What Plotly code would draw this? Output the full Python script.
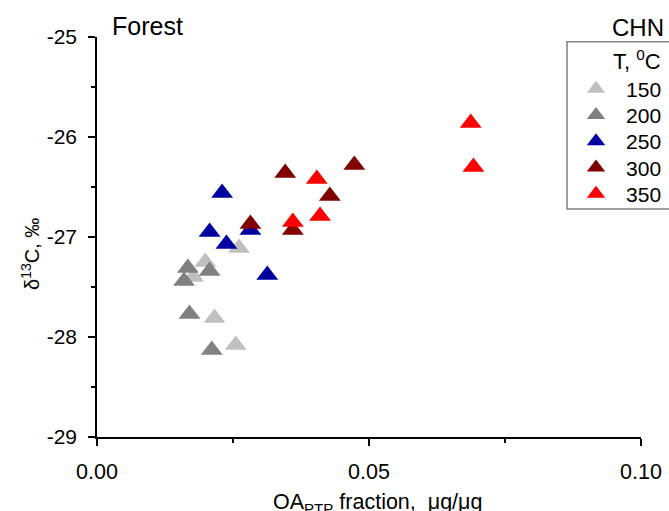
import plotly.graph_objects as go

# ---- data ----
temps = ["150", "200", "250", "300", "350"]
colors = ["#c0c0c0", "#808080", "#0000a0", "#800000", "#ff0000"]

x150 = [0.0261, 0.0199, 0.0177, 0.0216, 0.0255]
y150 = [-27.11, -27.25, -27.40, -27.81, -28.08]

x200 = [0.0167, 0.0207, 0.0160, 0.0170, 0.0211]
y200 = [-27.31, -27.34, -27.44, -27.77, -28.13]

x250 = [0.0230, 0.0207, 0.0238, 0.0282, 0.0313]
y250 = [-26.56, -26.95, -27.07, -26.93, -27.38]

x300 = [0.0282, 0.0346, 0.0473, 0.0428, 0.0360]
y300 = [-26.87, -26.36, -26.28, -26.59, -26.93]

x350 = [0.0687, 0.0692, 0.0404, 0.0410, 0.0360]
y350 = [-25.86, -26.30, -26.42, -26.79, -26.85]

xs = [x150, x200, x250, x300, x350]
ys = [y150, y200, y250, y300, y350]

x_tickvals = [0.0, 0.05, 0.10]
x_ticktext = ["0.00", "0.05", "0.10"]
y_tickvals = [-29, -28, -27, -26, -25]
y_ticktext = ["-29", "-28", "-27", "-26", "-25"]

FONT = "Liberation Sans, Arial, sans-serif"

# plot area in pixels: x 97..641, y 37..437
PX0, PX1, PY0, PY1 = 97, 641, 37, 437


def px(x):
    return (x - PX0) / (PX1 - PX0)


def py(y):
    return (PY1 - y) / (PY1 - PY0)


fig = go.Figure()
legend_names = ["legend", "legend2", "legend3", "legend4", "legend5"]
for t, c, xv, yv, lg in zip(temps, colors, xs, ys, legend_names):
    fig.add_trace(go.Scatter(
        x=xv, y=yv, mode="markers", name="\u00a0\u2009" + t, legend=lg,
        marker=dict(symbol="triangle-up", size=19, color=c, line=dict(width=0)),
    ))

legend_rows = [89, 115.3, 141.6, 167.9, 194.2]
layout_legends = {}
for lg, row in zip(legend_names, legend_rows):
    layout_legends[lg] = dict(
        x=px(576), xanchor="left", y=py(row), yanchor="middle",
        bgcolor="rgba(0,0,0,0)", borderwidth=0,
        font=dict(family=FONT, size=21, color="black"),
    )

fig.update_layout(
    width=669, height=511,
    margin=dict(l=PX0, r=669 - PX1, t=PY0, b=511 - PY1, autoexpand=False),
    paper_bgcolor="white", plot_bgcolor="white",
    font=dict(family=FONT, size=21, color="black"),
    showlegend=True,
    **layout_legends,
)

fig.update_xaxes(
    range=[0, 0.1], showline=True, linecolor="black", linewidth=1.5,
    showgrid=False, zeroline=False, automargin=False,
    ticks="outside", ticklen=7, tickwidth=1.5, tickcolor="black",
    tickvals=x_tickvals, ticktext=x_ticktext, ticklabelstandoff=7,
    tickfont=dict(family=FONT, size=21.5),
    minor=dict(ticks="outside", ticklen=4, tickwidth=1.5, tickcolor="black",
               dtick=0.025, tick0=0, showgrid=False),
)
fig.update_yaxes(
    range=[-29, -25], showline=True, linecolor="black", linewidth=1.5,
    showgrid=False, zeroline=False, automargin=False,
    ticks="outside", ticklen=7, tickwidth=1.5, tickcolor="black",
    tickvals=y_tickvals, ticktext=y_ticktext, ticklabelstandoff=7,
    tickfont=dict(family=FONT, size=21),
    minor=dict(ticks="outside", ticklen=4, tickwidth=1.5, tickcolor="black",
               dtick=0.5, tick0=-29, showgrid=False),
)

# legend frame
fig.add_shape(type="rect", xref="paper", yref="paper",
              x0=px(567), x1=px(690), y0=py(209), y1=py(41.7),
              line=dict(color="#808080", width=1.5), fillcolor="rgba(0,0,0,0)")

fig.add_annotation(text="Forest", xref="paper", yref="paper",
                   x=px(110), y=py(26), xanchor="left", yanchor="middle",
                   showarrow=False, font=dict(family=FONT, size=25))
fig.add_annotation(text="CHN", xref="paper", yref="paper",
                   x=px(610), y=py(27), xanchor="left", yanchor="middle",
                   showarrow=False, font=dict(family=FONT, size=24))
fig.add_annotation(text="T, <sup>0</sup>C", xref="paper", yref="paper",
                   x=px(611), y=py(60), xanchor="left", yanchor="middle",
                   showarrow=False, font=dict(family=FONT, size=22))
fig.add_annotation(text="δ<sup>13</sup>C, ‰", xref="paper", yref="paper",
                   x=px(30), y=py(254), xanchor="center", yanchor="middle",
                   textangle=-90, showarrow=False, font=dict(family=FONT, size=20))
fig.add_annotation(text="OA<sub>PTP</sub> fraction,  μg/μg", xref="paper", yref="paper",
                   x=px(377), y=py(503), xanchor="center", yanchor="middle",
                   showarrow=False, font=dict(family=FONT, size=21.5))

fig.write_html("out.html", config={"displayModeBar": False},
               post_script="document.body.style.margin='0';")
